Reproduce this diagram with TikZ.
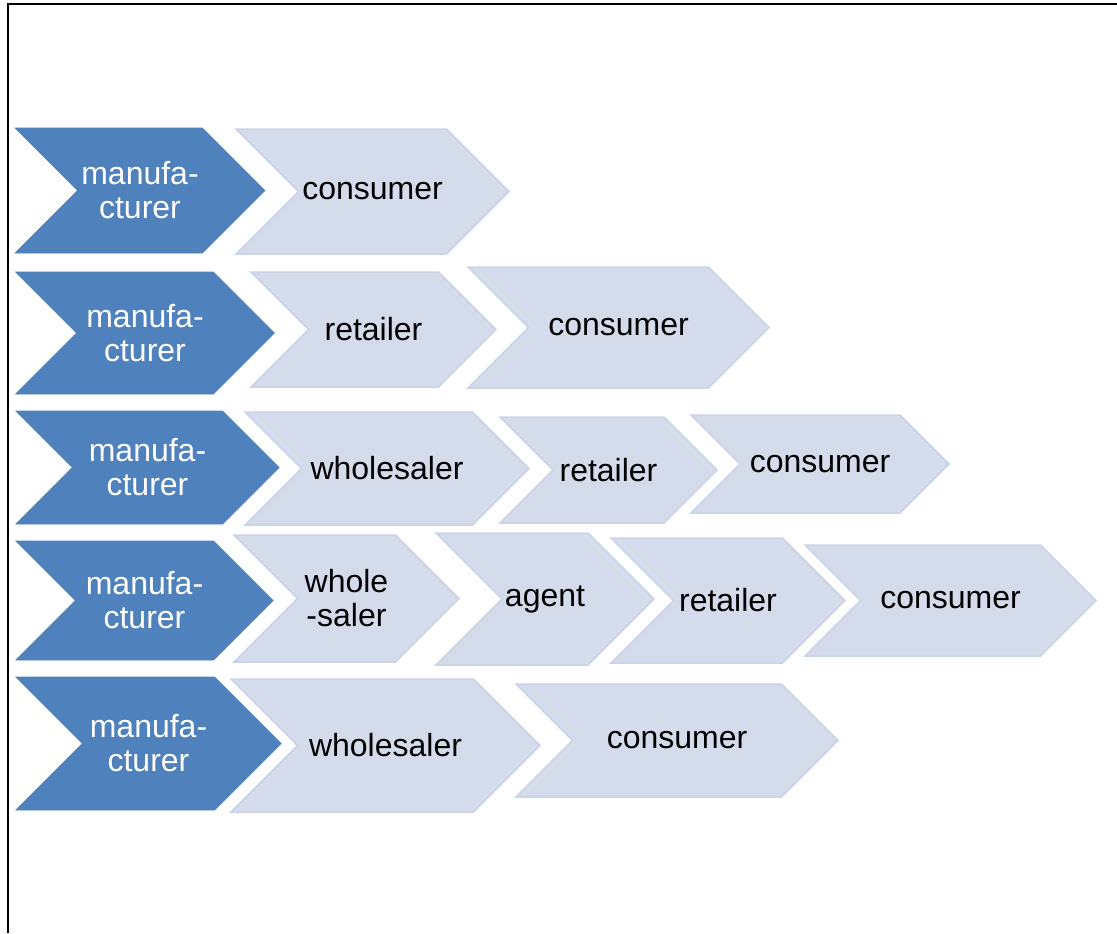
\documentclass[tikz,border=0pt]{standalone}
\usepackage{fontspec}
\setmainfont{Liberation Sans}
\usetikzlibrary{shapes.symbols}
\definecolor{makerblue}{RGB}{79,129,189}
\definecolor{linkfill}{RGB}{212,219,234}
\definecolor{linkedge}{RGB}{202,211,231}
\begin{document}
\begin{tikzpicture}[
  x=0.5pt, y=-0.5pt,
  chev/.style={signal, signal from=west, signal to=east, signal pointer angle=90, inner sep=0pt, align=center, font=\fontsize{16}{17}\selectfont},
  maker/.style={chev, fill=makerblue, draw=makerblue, text=white},
  link/.style={chev, fill=linkfill, draw=linkedge, line width=0.75pt, text=black}
]
\useasboundingbox (0,0) rectangle (1117,933);

% Frame
\draw[line width=1pt] (8,933) -- (8,4) -- (1117,4);

% Row 1
\node[maker, minimum width=124.75pt, minimum height=62.5pt] (m1) at (140,190.5) {manufa-\\cturer};
\node[link, minimum width=136.5pt, minimum height=62.5pt] (c1) at (372.5,191.5) {consumer};

% Row 2
\node[maker, minimum width=129.25pt, minimum height=61pt] (m2) at (145,333) {manufa-\\cturer};
\node[link, minimum width=122.5pt, minimum height=57.5pt] (r2) at (373.5,329.5) {retailer};
\node[link, minimum width=150.5pt, minimum height=60.5pt] (c2) at (618.5,327.5) {consumer};

% Row 3
\node[maker, minimum width=131.5pt, minimum height=56.5pt] (m3) at (147.5,467.5) {manufa-\\cturer};
\node[link, minimum width=142pt, minimum height=56.5pt] (w3) at (387,468.5) {wholesaler};
\node[link, minimum width=108.5pt, minimum height=53pt] (r3) at (608.5,470) {retailer};
\node[link, minimum width=129pt, minimum height=49pt] (c3) at (820,464) {consumer};

% Row 4
\node[maker, minimum width=128.5pt, minimum height=59.5pt] (m4) at (144.5,600.5) {manufa-\\cturer};
\node[link, minimum width=112.5pt, minimum height=63.5pt] (w4) at (346.5,598.5) {whole\\-saler};
\node[link, minimum width=109pt, minimum height=66pt] (a4) at (545,599) {agent};
\node[link, minimum width=117pt, minimum height=62.5pt] (r4) at (728,600.5) {retailer};
\node[link, minimum width=145.5pt, minimum height=55.5pt] (c4) at (950.5,600.5) {consumer};

% Row 5
\node[maker, minimum width=132.5pt, minimum height=66.5pt] (m5) at (148.5,743.5) {manufa-\\cturer};
\node[link, minimum width=154.5pt, minimum height=66.5pt] (w5) at (385.5,745.5) {wholesaler};
\node[link, minimum width=161pt, minimum height=56.5pt] (c5) at (677,740.5) {consumer};

\end{tikzpicture}
\end{document}
